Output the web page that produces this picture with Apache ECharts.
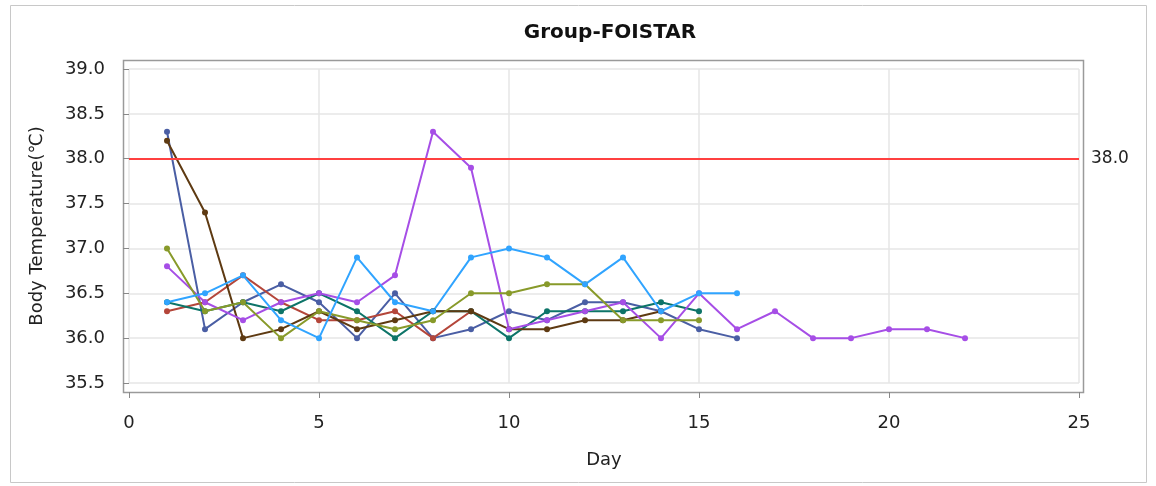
<!DOCTYPE html>
<html>
<head>
<meta charset="utf-8">
<script src="https://cdn.jsdelivr.net/npm/echarts@6/dist/echarts.min.js"></script>
<style>
  html, body { margin: 0; padding: 0; background: #fff; }
  #main { width: 1156px; height: 486px; }
</style>
</head>
<body>
<div id="main"></div>
<script>
// 数据：每组按天记录的体温
const days = [1, 2, 3, 4, 5, 6, 7, 8, 9, 10, 11, 12, 13, 14, 15, 16, 17, 18, 19, 20, 21, 22];
const yTicks = [35.5, 36.0, 36.5, 37.0, 37.5, 38.0, 38.5, 39.0];
const xTicks = [0, 5, 10, 15, 20, 25];
const refLine = 38.0;

const s1 = [38.3, 36.1, 36.4, 36.6, 36.4, 36.0, 36.5, 36.0, 36.1, 36.3, 36.2, 36.4, 36.4, 36.3, 36.1, 36.0];
const s2 = [36.3, 36.4, 36.7, 36.4, 36.2, 36.2, 36.3, 36.0, 36.3];
const s3 = [36.4, 36.3, 36.4, 36.3, 36.5, 36.3, 36.0, 36.3, 36.3, 36.0, 36.3, 36.3, 36.3, 36.4, 36.3];
const s4 = [38.2, 37.4, 36.0, 36.1, 36.3, 36.1, 36.2, 36.3, 36.3, 36.1, 36.1, 36.2, 36.2, 36.3];
const s5 = [36.8, 36.4, 36.2, 36.4, 36.5, 36.4, 36.7, 38.3, 37.9, 36.1, 36.2, 36.3, 36.4, 36.0, 36.5, 36.1, 36.3, 36.0, 36.0, 36.1, 36.1, 36.0];
const s6 = [37.0, 36.3, 36.4, 36.0, 36.3, 36.2, 36.1, 36.2, 36.5, 36.5, 36.6, 36.6, 36.2, 36.2, 36.2];
const s7 = [36.4, 36.5, 36.7, 36.2, 36.0, 36.9, 36.4, 36.3, 36.9, 37.0, 36.9, 36.6, 36.9, 36.3, 36.5, 36.5];

const groups = [s1, s2, s3, s4, s5, s6, s7];
const colors = ['#4a5ea4', '#b4463a', '#0d7468', '#5e3a12', '#a64ee6', '#889a2a', '#30a4ff'];

const font = 'DejaVu Sans';

const chart = echarts.init(document.getElementById('main'));

const series = groups.map(function (vals, i) {
  return {
    type: 'line',
    data: vals.map(function (v, k) { return [days[k], v]; }),
    symbol: 'circle',
    symbolSize: 6,
    lineStyle: { width: 2, color: colors[i] },
    itemStyle: { color: colors[i] },
    animation: false
  };
});

// 参考线 38.0
series[0].markLine = {
  silent: true,
  symbol: 'none',
  lineStyle: { color: '#ff4040', width: 2, type: 'solid' },
  label: {
    position: 'end', distance: 12, color: '#222', fontFamily: font, fontSize: 17,
    formatter: function (p) { return Number(p.value).toFixed(1); }
  },
  data: [{ yAxis: refLine }],
  animation: false
};

const option = {
  animation: false,
  title: {
    text: 'Group-FOISTAR',
    left: 605,
    textAlign: 'center',
    top: 18,
    textStyle: { fontFamily: font, fontSize: 20, fontWeight: 'bold', color: '#111' }
  },
  grid: { left: 129, right: 77, top: 69, bottom: 103 },
  xAxis: {
    type: 'value',
    min: xTicks[0],
    max: xTicks[xTicks.length - 1],
    interval: 5,
    offset: 9,
    name: 'Day',
    nameLocation: 'middle',
    nameGap: 59,
    nameTextStyle: { fontFamily: font, fontSize: 18, color: '#222' },
    axisLine: { show: false },
    axisTick: { show: true, length: 6, lineStyle: { color: '#888' } },
    axisLabel: { fontFamily: font, fontSize: 18, color: '#222', margin: 22 },
    splitLine: { show: true, lineStyle: { color: '#e6e6e6', width: 1.5 } }
  },
  yAxis: {
    type: 'value',
    min: yTicks[0],
    max: yTicks[yTicks.length - 1],
    interval: 0.5,
    offset: 6,
    name: 'Body Temperature(℃)',
    nameLocation: 'middle',
    nameGap: 77,
    nameTextStyle: { fontFamily: font, fontSize: 18, color: '#222' },
    axisLine: { show: false },
    axisTick: { show: true, length: 6, lineStyle: { color: '#888' } },
    axisLabel: { fontFamily: font, fontSize: 18, color: '#222', margin: 18, formatter: function (v) { return v.toFixed(1); } },
    splitLine: { show: true, lineStyle: { color: '#e6e6e6', width: 1.5 } }
  },
  graphic: [
    {
      type: 'rect',
      shape: { x: 10.5, y: 5.5, width: 1136, height: 477 },
      style: { fill: null, stroke: '#c8c8c8', lineWidth: 1 },
      silent: true
    },
    {
      type: 'rect',
      shape: { x: 123.5, y: 60.5, width: 960, height: 332 },
      style: { fill: null, stroke: '#9a9a9a', lineWidth: 1.5 },
      silent: true
    }
  ],
  series: series
};

chart.setOption(option);
</script>
</body>
</html>
